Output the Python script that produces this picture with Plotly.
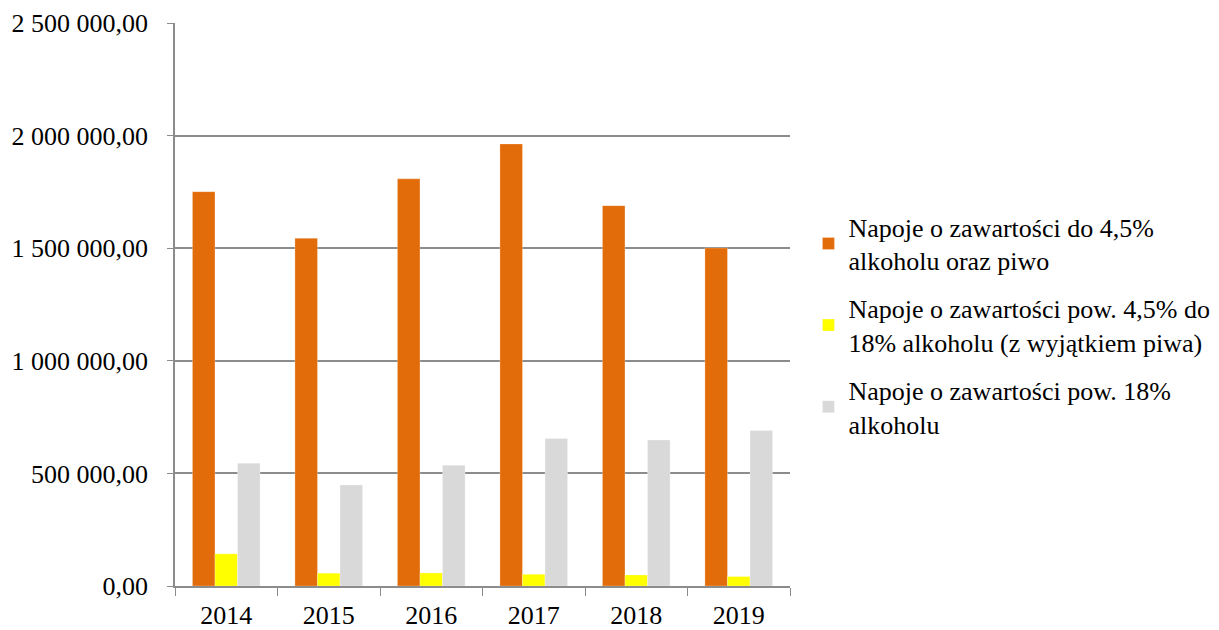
import plotly.graph_objects as go

years = ["2014", "2015", "2016", "2017", "2018", "2019"]
beer_low = [1751000, 1544000, 1808000, 1963000, 1689000, 1501000]
mid = [143000, 57000, 58000, 52000, 49000, 42000]
spirits = [545000, 449000, 536000, 655000, 648000, 690000]

names = [
    "Napoje o zawartości do 4,5%<br>alkoholu oraz piwo",
    "Napoje o zawartości pow. 4,5% do<br>18% alkoholu (z wyjątkiem piwa)",
    "Napoje o zawartości pow. 18%<br>alkoholu",
]
colors = ["#E36C0A", "#FFFF00", "#D9D9D9"]
series = [beer_low, mid, spirits]

fig = go.Figure()
for i, (n, c, s) in enumerate(zip(names, colors, series)):
    fig.add_trace(go.Bar(
        x=years, y=s, name=n, legendgroup=f"g{i}",
        marker=dict(color=c, line=dict(color="rgba(255,255,255,0.5)", width=0.5)),
    ))

font = "Liberation Serif"
fig.update_layout(
    width=1219, height=630,
    margin=dict(l=167, r=437, t=15, b=52, autoexpand=False),
    paper_bgcolor="white", plot_bgcolor="white",
    barmode="group", bargap=0.34, bargroupgap=0,
    separators=", ",
    font=dict(family=font, size=26, color="black"),
    showlegend=True,
    legend=dict(
        x=1.03, xanchor="left", y=0.68, yanchor="top",
        font=dict(family=font, size=26, color="black"),
        tracegroupgap=11, itemwidth=30,
        bgcolor="rgba(0,0,0,0)",
    ),
)
fig.update_yaxes(
    range=[0, 2500000], tickvals=[0, 500000, 1000000, 1500000, 2000000, 2500000],
    tickformat=",.2f", showgrid=True, gridcolor="#8C8C8C", gridwidth=1.5,
    showline=True, linecolor="#8C8C8C", linewidth=1.5,
    ticks="outside", ticklen=6, tickcolor="#8C8C8C", zeroline=False,
    tickfont=dict(family=font, size=26), automargin=False, ticklabelstandoff=14,
)
fig.update_xaxes(
    type="category", showline=True, linecolor="#8C8C8C", linewidth=1.5,
    ticks="outside", tickson="boundaries", ticklen=8, tickcolor="#8C8C8C",
    tickfont=dict(family=font, size=26), showgrid=False, automargin=False,
    ticklabelstandoff=5,
)

fig.write_html("out.html")
